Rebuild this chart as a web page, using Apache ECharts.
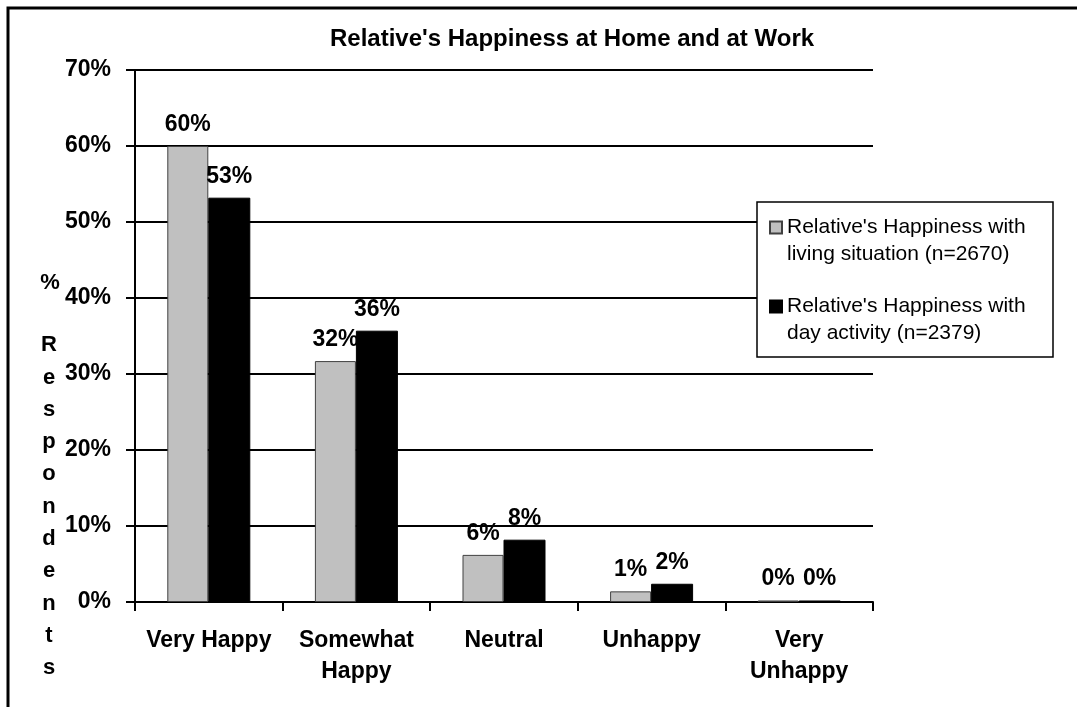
<!DOCTYPE html>
<html>
<head>
<meta charset="utf-8">
<script src="https://cdn.jsdelivr.net/npm/echarts@6/dist/echarts.min.js"></script>
<style>
  html, body { margin: 0; padding: 0; background: #fff; }
  #chart { width: 1077px; height: 707px; }
</style>
</head>
<body>
<div id="chart"></div>
<script>
var categories = ['Very Happy', 'Somewhat\nHappy', 'Neutral', 'Unhappy', 'Very\nUnhappy'];
var livingSituation = [60, 31.7, 6.2, 1.4, 0.2];
var dayActivity = [53.2, 35.7, 8.2, 2.4, 0.2];
var seriesNames = [
    "Relative's Happiness with\nliving situation (n=2670)",
    "Relative's Happiness with\nday activity (n=2379)"
];
var yTicks = [0, 10, 20, 30, 40, 50, 60, 70];

var font = '"Liberation Sans", Arial, sans-serif';
var chart = echarts.init(document.getElementById('chart'));

// square on top, lone moveTo below so the icon sits next to the first text line
var legendIcon = 'path://M0,0H12V12H0Z M0,39';

var labelStyle = {
    show: true,
    position: 'top',
    distance: 10,
    color: '#000',
    fontFamily: font,
    fontWeight: 'bold',
    fontSize: 23,
    formatter: function(p) { return Math.round(p.value) + '%'; }
};

chart.setOption({
    backgroundColor: '#fff',
    animation: false,
    title: {
        text: "Relative's Happiness at Home and at Work",
        left: 330,
        top: 27,
        padding: 0,
        textStyle: { fontFamily: font, fontWeight: 'bold', fontSize: 24, color: '#000' }
    },
    legend: {
        orient: 'vertical',
        left: 769,
        top: 214,
        padding: 0,
        itemWidth: 12,
        itemHeight: 39,
        itemGap: 25,
        z: 6,
        data: [{ name: seriesNames[0], icon: legendIcon }, { name: seriesNames[1], icon: legendIcon }],
        textStyle: {
            fontFamily: font,
            fontSize: 21,
            color: '#000',
            lineHeight: 27
        }
    },
    grid: { left: 135, right: 204, top: 70, bottom: 105, containLabel: false },
    xAxis: {
        type: 'category',
        data: categories,
        axisLine: { lineStyle: { color: '#000', width: 2 } },
        axisTick: { show: true, length: 9, lineStyle: { color: '#000', width: 2 } },
        axisLabel: {
            interval: 0,
            margin: 23,
            color: '#000',
            fontFamily: font,
            fontWeight: 'bold',
            fontSize: 23,
            lineHeight: 31
        }
    },
    yAxis: {
        type: 'value',
        min: 0,
        max: yTicks[yTicks.length - 1],
        interval: 10,
        axisLine: { show: true, lineStyle: { color: '#000', width: 2 } },
        axisTick: { show: true, length: 9, lineStyle: { color: '#000', width: 2 } },
        splitLine: { show: true, lineStyle: { color: '#000', width: 2 } },
        axisLabel: {
            margin: 24,
            color: '#000',
            fontFamily: font,
            fontWeight: 'bold',
            fontSize: 23,
            formatter: '{value}%'
        }
    },
    graphic: [
        {
            type: 'rect',
            shape: { x: 8, y: 8, width: 1090, height: 720 },
            style: { fill: 'none', stroke: '#000', lineWidth: 3 },
            z: 1
        },
        {
            type: 'rect',
            shape: { x: 757, y: 202, width: 296, height: 155 },
            style: { fill: '#fff', stroke: '#000', lineWidth: 1.5 },
            z: 5
        },
        {
            type: 'text',
            x: 50,
            y: 283,
            style: { text: '%', fontFamily: font, fontWeight: 'bold', fontSize: 22, fill: '#000', align: 'center', verticalAlign: 'middle' }
        },
        {
            type: 'text',
            x: 49,
            y: 329,
            style: {
                text: 'R\ne\ns\np\no\nn\nd\ne\nn\nt\ns',
                fontFamily: font, fontWeight: 'bold', fontSize: 22, lineHeight: 32.3,
                fill: '#000', align: 'center', verticalAlign: 'top'
            }
        }
    ],
    series: [
        {
            name: seriesNames[0],
            type: 'bar',
            data: livingSituation,
            barWidth: 41,
            barGap: 0,
            itemStyle: { color: '#c0c0c0', borderColor: '#404040', borderWidth: 1 },
            label: labelStyle
        },
        {
            name: seriesNames[1],
            type: 'bar',
            data: dayActivity,
            barWidth: 42,
            barGap: 0,
            itemStyle: { color: '#000', borderColor: '#000', borderWidth: 1 },
            label: labelStyle
        }
    ]
});
</script>
</body>
</html>
